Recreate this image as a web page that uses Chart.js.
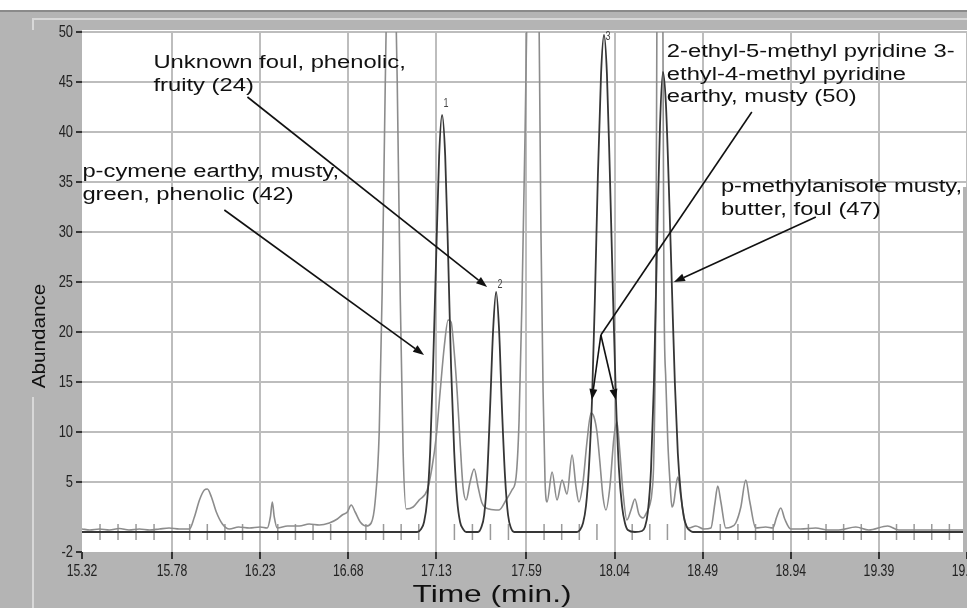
<!DOCTYPE html>
<html>
<head>
<meta charset="utf-8">
<title>Chromatogram</title>
<script src="https://cdn.jsdelivr.net/npm/chart.js@4.4.0/dist/chart.umd.min.js"></script>
<style>
  html, body { margin: 0; padding: 0; overflow: hidden; background: #fff; }
  #wrap { width: 990px; height: 608px; position: relative; }
</style>
</head>
<body>
<div id="wrap"><canvas id="chromChart"></canvas></div>
<script>
// Tick labels
const xTickLabels = ['15.32', '15.78', '16.23', '16.68', '17.13', '17.59', '18.04', '18.49', '18.94', '19.39', '19.84'];
const yTickValues = [-2, 5, 10, 15, 20, 25, 30, 35, 40, 45, 50];

// Light grey trace (retention time in min, abundance)
const grayTime = [15.320, 15.360, 15.409, 15.460, 15.511, 15.560, 15.613, 15.665, 15.715, 15.765, 15.817, 15.869,
    15.894, 15.920, 15.945, 15.960, 15.981, 16.006, 16.037, 16.073, 16.120, 16.175, 16.230, 16.266, 16.282, 16.292,
    16.302, 16.317, 16.370, 16.430, 16.480, 16.532, 16.583, 16.624, 16.649, 16.675, 16.695, 16.715, 16.741, 16.772,
    16.797, 16.817, 16.838, 16.853, 16.869, 16.884, 16.899, 16.914, 16.930, 16.945, 16.960, 16.976, 17.011, 17.042,
    17.083, 17.108, 17.129, 17.149, 17.170, 17.190, 17.205, 17.221, 17.236, 17.251, 17.266, 17.282, 17.302, 17.323,
    17.343, 17.363, 17.399, 17.450, 17.486, 17.516, 17.537, 17.552, 17.567, 17.583, 17.598, 17.613, 17.624, 17.639,
    17.654, 17.664, 17.675, 17.685, 17.695, 17.721, 17.746, 17.772, 17.797, 17.823, 17.843, 17.858, 17.879, 17.899,
    17.920, 17.935, 17.950, 17.965, 17.981, 17.996, 18.016, 18.037, 18.052, 18.067, 18.083, 18.103, 18.124, 18.144,
    18.164, 18.185, 18.205, 18.221, 18.231, 18.241, 18.251, 18.256, 18.261, 18.272, 18.282, 18.287, 18.292, 18.302,
    18.312, 18.323, 18.333, 18.343, 18.353, 18.363, 18.379, 18.399, 18.420, 18.455, 18.496, 18.532, 18.552, 18.567,
    18.583, 18.608, 18.635, 18.659, 18.685, 18.710, 18.731, 18.761, 18.812, 18.848, 18.868, 18.889, 18.909, 18.940,
    18.990, 19.067, 19.130, 19.185, 19.272, 19.338, 19.435, 19.491, 19.650, 19.840];
const grayAbund = [0.3, 0.2, 0.3, 0.2, 0.35, 0.2, 0.3, 0.2, 0.3, 0.4, 0.3, 0.3,
    1.5, 3.2, 4.2, 4.3, 3.5, 2.0, 0.8, 0.3, 0.5, 0.4, 0.5, 0.4, 1.5, 3.0,
    1.5, 0.4, 0.6, 0.6, 0.8, 0.7, 0.9, 1.3, 1.7, 2.0, 2.7, 2.0, 1.0, 0.6,
    0.9, 3.0, 10, 24, 45, 62, 70, 62, 45, 24, 8, 2.3, 2.5, 3.2,
    4.2, 6.5, 9.5, 14, 18.5, 21.2, 21, 18, 14, 9, 4.5, 3.2, 5, 6.3,
    4.5, 2.9, 2.3, 2.2, 3.2, 4.2, 5.5, 11, 23, 40, 59, 72, 75, 70,
    52, 30, 14, 5, 3, 6.0, 3.2, 5.2, 3.8, 7.7, 4.5, 3.0, 5, 9,
    11.9, 11.5, 10, 7, 3.5, 2.2, 4.5, 9.5, 11, 8, 4, 1.2, 2.2, 3.3,
    1.8, 1.4, 2.0, 2.8, 4, 8, 25, 50, 80, 110, 80, 50, 25, 15,
    9, 5, 2.5, 3, 4.5, 5.5, 3.5, 1.0, 0.4, 0.6, 0.3, 0.4, 2.8, 4.6,
    3.0, 0.4, 0.5, 0.9, 2.5, 5.2, 3.0, 0.4, 0.5, 0.4, 1.5, 2.4, 1.3, 0.3,
    0.3, 0.4, 0.2, 0.2, 0.5, 0.2, 0.6, 0.2, 0.2, 0.2];

// Dark trace
const blackTime = [15.320, 17.032, 17.052, 17.067, 17.083, 17.098, 17.113, 17.129, 17.144, 17.159, 17.175, 17.190,
    17.205, 17.221, 17.236, 17.251, 17.266, 17.282, 17.343, 17.358, 17.374, 17.389, 17.404, 17.420, 17.435, 17.450,
    17.465, 17.481, 17.496, 17.511, 17.527, 17.848, 17.863, 17.879, 17.894, 17.909, 17.925, 17.940, 17.955, 17.971,
    17.986, 18.001, 18.016, 18.032, 18.047, 18.062, 18.078, 18.093, 18.108, 18.144, 18.180, 18.195, 18.210, 18.226,
    18.241, 18.256, 18.272, 18.287, 18.302, 18.317, 18.333, 18.348, 18.363, 18.379, 18.394, 18.409, 18.425, 18.440,
    19.840];
const blackAbund = [0, 0, 0.3, 1.0, 3.2, 8.0, 16.5, 27.6, 37.6, 41.7, 37.6, 27.6,
    16.5, 8.0, 3.2, 1.0, 0.3, 0, 0, 0.4, 1.7, 5.4, 12.3, 20.3, 24, 20.3,
    12.3, 5.4, 1.7, 0.4, 0, 0, 0.2, 0.9, 2.6, 6.4, 13.3, 23.7, 35.8, 45.8,
    49.7, 45.8, 35.8, 23.7, 13.3, 6.4, 2.6, 0.9, 0.2, 0, 0.1, 0.5, 2.0, 6.2,
    14.9, 27.9, 40.6, 46, 42.9, 34.7, 24.4, 14.9, 7.9, 3.7, 1.5, 0.5, 0.15, 0,
    0];

// Peak numbers and odour notes, anchored in data units
const peakNumbers = ['1', '2', '3'];
const peakNumberTime = [17.179, 17.455, 18.006];
const peakNumberAbund = [42.8, 24.7, 49.5];

const notes = [
    { lines: ['Unknown foul, phenolic,', 'fruity (24)'], t: 15.685, v: 46.4,
      from: [16.165, 43.5], to: [[17.389, 24.5]] },
    { lines: ['p-cymene earthy, musty,', 'green, phenolic (42)'], t: 15.322, v: 35.5,
      from: [16.047, 32.2], to: [[17.067, 17.7]] },
    { lines: ['2-ethyl-5-methyl pyridine 3-', 'ethyl-4-methyl pyridine', 'earthy, musty (50)'], t: 18.307, v: 47.5,
      from: [18.741, 42.0], via: [17.970, 19.7], to: [[17.924, 13.2], [18.047, 13.2]] },
    { lines: ['p-methylanisole musty,', 'butter, foul (47)'], t: 18.583, v: 34.0,
      from: [19.068, 31.5], to: [[18.343, 25.0]] }
];

const textFont = "'Liberation Sans', Arial, sans-serif";

function toPoints(times, values) {
    return times.map((t, i) => ({ x: t, y: values[i] }));
}

// text scaled horizontally (the original uses wide notes and narrow tick digits)
function wideText(ctx, str, x, y, sx) {
    ctx.save();
    ctx.translate(x, y);
    ctx.scale(sx, 1);
    ctx.fillText(str, 0, 0);
    ctx.restore();
}

function arrow(ctx, a, b) {
    const ang = Math.atan2(b[1] - a[1], b[0] - a[0]);
    const len = 11, w = 4;
    const bx = b[0] - len * Math.cos(ang), by = b[1] - len * Math.sin(ang);
    ctx.beginPath();
    ctx.moveTo(a[0], a[1]);
    ctx.lineTo(bx, by);
    ctx.stroke();
    ctx.beginPath();
    ctx.moveTo(b[0], b[1]);
    ctx.lineTo(bx + w * Math.sin(ang), by - w * Math.cos(ang));
    ctx.lineTo(bx - w * Math.sin(ang), by + w * Math.cos(ang));
    ctx.closePath();
    ctx.fill();
}

// grey window frame and white plot area
const frameDecor = {
    id: 'frameDecor',
    beforeDraw(chart) {
        const { ctx, chartArea: a, width, height } = chart;
        ctx.save();
        ctx.fillStyle = '#b4b4b4';
        ctx.fillRect(0, 0, width, height);
        ctx.fillStyle = '#ffffff';
        ctx.fillRect(0, 0, width, 10);
        ctx.fillRect(a.left, a.top - 2, a.right - a.left, a.bottom - a.top + 2);
        ctx.strokeStyle = '#8a8a8a';
        ctx.lineWidth = 2;
        ctx.beginPath(); ctx.moveTo(0, 11); ctx.lineTo(width, 11); ctx.stroke();
        ctx.strokeStyle = '#d8d8d8';
        ctx.beginPath();
        ctx.moveTo(33, 30); ctx.lineTo(33, 19); ctx.lineTo(width, 19);
        ctx.moveTo(33, 397); ctx.lineTo(33, height);
        ctx.stroke();
        ctx.restore();
    },
    afterDraw(chart) {
        const { ctx, chartArea: a } = chart;
        // grey strip on the right border of the plot window
        ctx.save();
        ctx.fillStyle = '#b4b4b4';
        ctx.fillRect(963, 187, 8, a.bottom - 187);
        ctx.restore();
    }
};

// small tick marks along the zero line
const baselineTicks = {
    id: 'baselineTicks',
    beforeDatasetsDraw(chart) {
        const { ctx, scales: { x, y } } = chart;
        const y0 = y.getPixelForValue(0);
        const vals = xTickLabels.map(Number);
        ctx.save();
        ctx.strokeStyle = '#9a9a9a';
        ctx.lineWidth = 1.5;
        ctx.beginPath();
        for (let i = 0; i < vals.length - 1; i++) {
            for (let j = 1; j < 5; j++) {
                const px = x.getPixelForValue(vals[i] + (vals[i + 1] - vals[i]) * j / 5);
                ctx.moveTo(px, y0 - 8);
                ctx.lineTo(px, y0 + 8);
            }
        }
        ctx.stroke();
        ctx.restore();
    }
};

// narrow tick digits, drawn at the scale's own tick positions
const tickText = {
    id: 'tickText',
    afterDraw(chart) {
        const { ctx, scales: { x, y }, chartArea: a } = chart;
        ctx.save();
        ctx.fillStyle = '#222';
        ctx.font = '17px ' + textFont;
        ctx.textBaseline = 'middle';
        ctx.textAlign = 'center';
        x.ticks.forEach((t, i) => wideText(ctx, xTickLabels[i], x.getPixelForValue(t.value), a.bottom + 19, 0.72));
        ctx.textAlign = 'right';
        y.ticks.forEach(t => wideText(ctx, String(t.value), a.left - 9, y.getPixelForValue(t.value), 0.76));
        ctx.restore();
    }
};

const notesPlugin = {
    id: 'notes',
    afterDatasetsDraw(chart) {
        const { ctx, scales: { x, y } } = chart;
        const P = p => [x.getPixelForValue(p[0]), y.getPixelForValue(p[1])];
        ctx.save();
        ctx.fillStyle = '#111';
        ctx.strokeStyle = '#111';
        ctx.lineWidth = 1.6;
        ctx.font = '18px ' + textFont;
        ctx.textBaseline = 'alphabetic';
        ctx.textAlign = 'left';
        notes.forEach(n => {
            const [tx, ty] = P([n.t, n.v]);
            n.lines.forEach((s, i) => wideText(ctx, s, tx, ty + i * 22.5, 1.32));
            let start = P(n.from);
            if (n.via) {
                const mid = P(n.via);
                ctx.beginPath(); ctx.moveTo(start[0], start[1]); ctx.lineTo(mid[0], mid[1]); ctx.stroke();
                start = mid;
            }
            n.to.forEach(p => arrow(ctx, start, P(p)));
        });
        ctx.fillStyle = '#444';
        ctx.font = '12px ' + textFont;
        ctx.textAlign = 'center';
        ctx.textBaseline = 'middle';
        peakNumbers.forEach((s, i) => {
            const [px, py] = P([peakNumberTime[i], peakNumberAbund[i]]);
            wideText(ctx, s, px, py, 0.75);
        });
        ctx.restore();
    },
    afterDraw(chart) {
        const { ctx } = chart;
        ctx.save();
        ctx.fillStyle = '#111';
        ctx.textAlign = 'center';
        ctx.textBaseline = 'alphabetic';
        ctx.font = '24px ' + textFont;
        wideText(ctx, 'Time (min.)', 492, 602, 1.32);
        ctx.translate(45, 336);
        ctx.rotate(-Math.PI / 2);
        ctx.font = '18px ' + textFont;
        wideText(ctx, 'Abundance', 0, 0, 1.15);
        ctx.restore();
    }
};

const ctx = document.getElementById('chromChart').getContext('2d');

const config = {
    type: 'line',
    data: {
        datasets: [
            {
                label: 'dark trace',
                data: toPoints(blackTime, blackAbund),
                borderColor: '#363636',
                borderWidth: 1.8,
                pointRadius: 0,
                cubicInterpolationMode: 'monotone'
            },
            {
                label: 'grey trace',
                data: toPoints(grayTime, grayAbund),
                borderColor: '#8c8c8c',
                borderWidth: 1.6,
                pointRadius: 0,
                cubicInterpolationMode: 'monotone'
            }
        ]
    },
    options: {
        responsive: true,
        maintainAspectRatio: false,
        animation: false,
        parsing: false,
        layout: { padding: { top: 32, right: 23, bottom: 0, left: 0 } },
        plugins: {
            legend: { display: false },
            tooltip: { enabled: false }
        },
        scales: {
            x: {
                type: 'linear',
                min: 15.32,
                max: 19.84,
                afterBuildTicks: s => { s.ticks = xTickLabels.map(l => ({ value: Number(l) })); },
                afterFit: s => { s.height = 56; },
                ticks: {
                    callback: (v, i) => xTickLabels[i],
                    color: 'rgba(0,0,0,0)',
                    maxRotation: 0,
                    autoSkip: false
                },
                grid: {
                    color: c => (c.index === 0 ? 'rgba(0,0,0,0)' : '#bdbdbd'),
                    lineWidth: 2,
                    tickColor: '#333',
                    tickLength: 7,
                    tickWidth: 2
                },
                border: { display: false }
            },
            y: {
                min: -2,
                max: 50,
                afterBuildTicks: s => { s.ticks = yTickValues.map(v => ({ value: v })); },
                afterFit: s => { s.width = 82; },
                ticks: { color: 'rgba(0,0,0,0)' },
                grid: {
                    color: c => (c.index === 0 ? 'rgba(0,0,0,0)' : '#bdbdbd'),
                    lineWidth: 2,
                    tickColor: '#333',
                    tickLength: 6,
                    tickWidth: 2
                },
                border: { display: false }
            }
        }
    },
    plugins: [frameDecor, baselineTicks, tickText, notesPlugin]
};

let chromChart = new Chart(ctx, config);
</script>
</body>
</html>
